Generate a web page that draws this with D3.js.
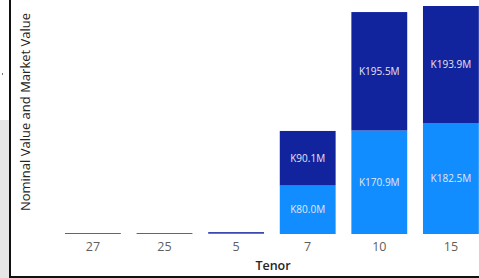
<!DOCTYPE html>
<html>
<head>
<meta charset="utf-8">
<script src="https://cdn.jsdelivr.net/npm/d3@7"></script>
<style>
  html, body { margin: 0; padding: 0; background: #fff; }
  svg { display: block; }
</style>
</head>
<body>
<svg id="chart" width="479" height="278"></svg>
<script>
const categories = ["27", "25", "5", "7", "10", "15"];
const nominalValues = [0, 0, 1.5, 80.0, 170.9, 182.5];
const marketValues = [1.2, 1.2, 1.5, 90.1, 195.5, 193.9];
const seriesNames = ["Nominal Value", "Market Value"];
const seriesColors = ["#118DFF", "#12239E"];
const labelThreshold = 20;

const svg = d3.select("#chart");
const W = 479, H = 278;

// left grey strip and frame lines
svg.append("rect").attr("x", 0).attr("y", 120).attr("width", 9).attr("height", H - 120).attr("fill", "#e6e6e6");
svg.append("rect").attr("x", 2).attr("y", 73).attr("width", 1).attr("height", 2).attr("fill", "#777");
svg.append("rect").attr("x", 9).attr("y", 0).attr("width", 2).attr("height", H).attr("fill", "#111");
svg.append("rect").attr("x", 9).attr("y", 276).attr("width", W - 9).attr("height", 2).attr("fill", "#111");

const rows = categories.map((c, i) => ({ cat: c, "Nominal Value": nominalValues[i], "Market Value": marketValues[i] }));
const stack = d3.stack().keys(seriesNames)(rows);

const x = d3.scaleBand().domain(categories).range([57.1, 486.7]).paddingInner(0.22).paddingOuter(0.11);
const maxTotal = d3.max(rows, d => d["Nominal Value"] + d["Market Value"]);
const y = d3.scaleLinear().domain([0, maxTotal]).range([234, 6]);

const fmt = v => "K" + d3.format(".1f")(v) + "M";

const layers = svg.append("g").selectAll("g").data(stack).join("g")
  .attr("fill", (d, i) => seriesColors[i]);

layers.selectAll("rect").data(d => d).join("rect")
  .attr("x", d => x(d.data.cat))
  .attr("width", x.bandwidth())
  .attr("y", d => y(d[1]))
  .attr("height", d => Math.max(0, y(d[0]) - y(d[1])));

layers.selectAll("text").data(d => d.filter(p => (p[1] - p[0]) >= labelThreshold)).join("text")
  .attr("x", d => x(d.data.cat) + x.bandwidth() / 2)
  .attr("y", d => (y(d[0]) + y(d[1])) / 2)
  .attr("dy", "0.35em")
  .attr("text-anchor", "middle")
  .attr("font-family", "'Open Sans', sans-serif")
  .attr("font-size", 10)
  .attr("fill", "#e4e6f2")
  .text(d => fmt(d[1] - d[0]));

// x axis
const xAxis = svg.append("g").attr("transform", "translate(0,234)")
  .call(d3.axisBottom(x).tickSize(0).tickPadding(8));
xAxis.select(".domain").remove();
xAxis.selectAll("text")
  .attr("font-family", "'Open Sans', sans-serif")
  .attr("font-size", 12.5)
  .attr("fill", "#605E5C");

svg.append("text")
  .attr("x", 273).attr("y", 270)
  .attr("text-anchor", "middle")
  .attr("font-family", "'Open Sans', sans-serif")
  .attr("font-size", 12.5)
  .attr("font-weight", 600)
  .attr("fill", "#252423")
  .text("Tenor");

svg.append("text")
  .attr("transform", "translate(30,112) rotate(-90)")
  .attr("text-anchor", "middle")
  .attr("font-family", "'Open Sans', sans-serif")
  .attr("font-size", 13)
  .attr("fill", "#252423")
  .text("Nominal Value and Market Value");
</script>
</body>
</html>
